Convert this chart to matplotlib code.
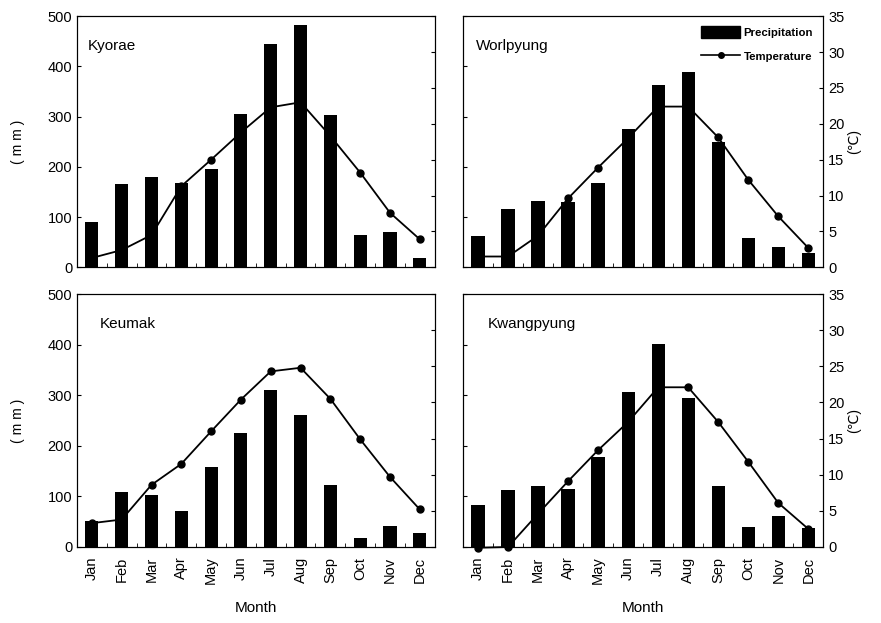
import numpy as np
import matplotlib
matplotlib.use("Agg")
import matplotlib.pyplot as plt
from matplotlib.patches import Patch
from matplotlib.lines import Line2D

plt.rcParams['font.family'] = ['Liberation Sans', 'DejaVu Sans']

months = ["Jan", "Feb", "Mar", "Apr", "May", "Jun",
          "Jul", "Aug", "Sep", "Oct", "Nov", "Dec"]
stations = ["Kyorae", "Worlpyung", "Keumak", "Kwangpyung"]

# monthly precipitation (mm)
prec_kyorae = [91, 165, 180, 168, 195, 305, 444, 483, 304, 65, 71, 19]
prec_worlpyung = [62, 116, 131, 130, 167, 275, 363, 389, 250, 59, 41, 29]
prec_keumak = [52, 109, 103, 71, 159, 225, 310, 261, 122, 17, 41, 27]
prec_kwangpyung = [84, 112, 121, 115, 178, 307, 402, 295, 121, 40, 61, 38]

# monthly mean temperature (deg C)
temp_kyorae = [1.3, 2.4, 4.5, 11.3, 15.0, 18.8, 22.3, 23.0, 18.3, 13.2, 7.6, 3.9]
temp_worlpyung = [1.5, 1.5, 4.4, 9.6, 13.9, 18.0, 22.4, 22.4, 18.1, 12.2, 7.1, 2.7]
temp_keumak = [3.3, 3.8, 8.6, 11.5, 16.0, 20.4, 24.3, 24.8, 20.5, 14.9, 9.7, 5.2]
temp_kwangpyung = [-0.1, 0.0, 4.6, 9.1, 13.4, 17.3, 22.1, 22.1, 17.3, 11.8, 6.1, 2.5]

prec_all = [prec_kyorae, prec_worlpyung, prec_keumak, prec_kwangpyung]
temp_all = [temp_kyorae, temp_worlpyung, temp_keumak, temp_kwangpyung]

fig = plt.figure(figsize=(8.81, 6.23), dpi=100)
fig.patch.set_facecolor('white')

# [left, bottom, width, height] for the four panels
boxes = [
    [0.0874, 0.571, 0.406, 0.403],
    [0.5255, 0.571, 0.409, 0.403],
    [0.0874, 0.122, 0.406, 0.406],
    [0.5255, 0.122, 0.409, 0.406],
]
name_x = [0.03, 0.035, 0.065, 0.07]

x = np.arange(len(months))

for i, (name, prec, temp) in enumerate(zip(stations, prec_all, temp_all)):
    ax = fig.add_axes(boxes[i])
    ax2 = ax.twinx()
    # bars drawn over the temperature line
    ax.set_zorder(ax2.get_zorder() + 1)
    ax.patch.set_visible(False)

    ax2.plot(x, temp, '-', color='black', lw=1.3, marker='o', markersize=5,
             clip_on=False)
    ax.bar(x, prec, width=0.44, color='black')

    ax.set_xlim(-0.5, 11.5)
    ax.set_ylim(0, 500)
    ax2.set_ylim(0, 35)
    ax.set_yticks(np.arange(0, 501, 100))
    ax2.set_yticks(np.arange(0, 36, 5))

    ax.set_xticks(x)
    ax.set_xticks(np.arange(0.5, 11, 1), minor=True)
    ax.tick_params(axis='x', which='major', length=0, pad=7)
    ax.tick_params(axis='x', which='minor', direction='in', length=3)
    ax.tick_params(axis='y', direction='in', length=3, labelsize=10.5)
    ax2.tick_params(axis='y', direction='in', length=3, labelsize=10.5)

    for a in (ax, ax2):
        for s in a.spines.values():
            s.set_linewidth(0.8)

    if i >= 2:
        ax.set_xticklabels(months, rotation=90, fontsize=10.5)
        ax.set_xlabel("Month", fontsize=11, labelpad=12)
    else:
        ax.set_xticklabels([])

    if i % 2 == 0:
        ax.set_ylabel("( m m )", fontsize=10, labelpad=16)
        ax2.set_yticklabels([])
    else:
        ax.set_yticklabels([])
        ax2.set_ylabel("(℃)", fontsize=10, labelpad=2)

    ax.text(name_x[i], 0.88, name, transform=ax.transAxes, fontsize=11,
            ha='left', va='center')

    if i == 1:
        handles = [Patch(facecolor='black', edgecolor='black'),
                   Line2D([], [], color='black', lw=1.2, marker='o', markersize=4)]
        ax.legend(handles, ["Precipitation", "Temperature"], loc='upper right',
                  frameon=False, prop={'size': 8.2, 'weight': 'bold'},
                  handlelength=3.4, handleheight=1.2, handletextpad=0.3,
                  borderaxespad=0.5, labelspacing=1.1)

fig.savefig("out.png", dpi=100)
